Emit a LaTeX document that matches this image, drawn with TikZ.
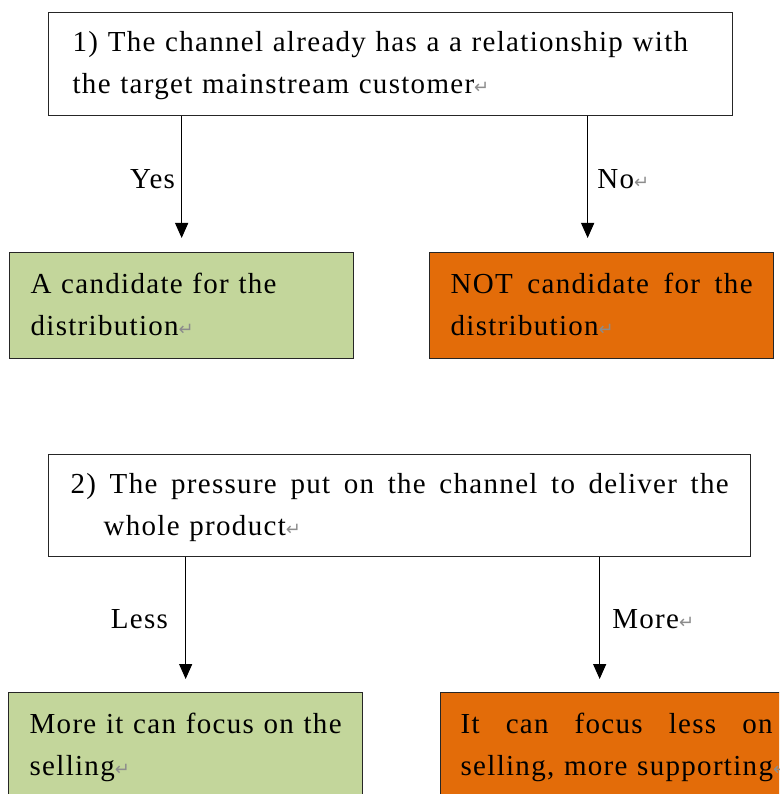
\documentclass[tikz,border=0pt]{standalone}
\usepackage{fontspec}
\setmainfont{Liberation Serif}[LetterSpace=4.5]
\newfontfamily\markfont{DejaVu Sans}
\usepackage{tikz}
\usetikzlibrary{arrows.meta,positioning}

\definecolor{boxgreen}{HTML}{C3D69B}
\definecolor{boxorange}{HTML}{E36C09}
\definecolor{markgray}{HTML}{8C8C8C}
\newcommand{\pmark}{{\markfont\fontsize{18}{18}\selectfont\textcolor{markgray}{↵}}}
\newcommand{\fullline}[1]{{\spaceskip=0pt\xspaceskip=0pt\makebox[\linewidth][s]{#1}}}

\begin{document}
\begin{tikzpicture}[x=1pt,y=-1pt,>={Triangle[width=13pt,length=15pt]},
                    every node/.style={font=\fontsize{29}{42}\selectfont},
                    box/.style={draw=black!85,line width=1.3pt,rectangle,align=left,
                                anchor=north west,inner ysep=0pt,minimum height=106pt,
                                execute at begin node=\strut,execute at end node=\strut},
                    arr/.style={->,line width=1.3pt,shorten >=14pt},
                    lbl/.style={inner sep=0pt,pos=.46}]
  \useasboundingbox (0,0) rectangle (779,794);
  \clip (0,0) rectangle (779,794);

  % first question
  \node[box]                 (q1)   at (48,12)  [text width=636pt,inner xsep=24pt,minimum height=103pt]
        {1) The channel already has a a relationship with\\ the target mainstream customer\pmark};
  \node[box,fill=boxgreen]   (yes)  at (9,252)  [text width=302pt,inner xsep=21pt]
        {A candidate for the\\ distribution\pmark};
  \node[box,fill=boxorange]  (no)   at (429,252) [text width=302pt,inner xsep=21pt]
        {\fullline{NOT candidate for the}\\ distribution\pmark};

  % second question
  \node[box]                 (q2)   at (48,454) [text width=658pt,inner xsep=22pt,minimum height=102pt]
        {\fullline{2) The pressure put on the channel to deliver the}\\ \hspace*{33pt}whole product\pmark};
  \node[box,fill=boxgreen]   (less) at (8,692)  [text width=312pt,inner xsep=21pt]
        {\fullline{More it can focus on the}\\ selling\pmark};
  \node[box,fill=boxorange]  (more) at (440,692) [text width=312pt,inner xsep=20pt]
        {\fullline{It can focus less on}\\ \mbox{selling, more supporting\pmark}};

  \coordinate (noin)   at ([xshift=-14pt]no.north);
  \coordinate (morein) at ([xshift=-17pt]more.north);

  \path (q1.south -| yes.north) edge[arr]                  node[lbl,left=6pt]   {Yes} (yes.north)
        (q1.south -| noin)      edge[arr]                  node[lbl,right=9pt]  {No\pmark} (noin)
        (q2.south -| less.north) edge[arr,shorten >=13pt]  node[lbl,left=17pt]  {Less} (less.north)
        (q2.south -| morein)    edge[arr,shorten >=13pt]   node[lbl,right=12pt] {More\pmark} (morein);
\end{tikzpicture}
\end{document}
